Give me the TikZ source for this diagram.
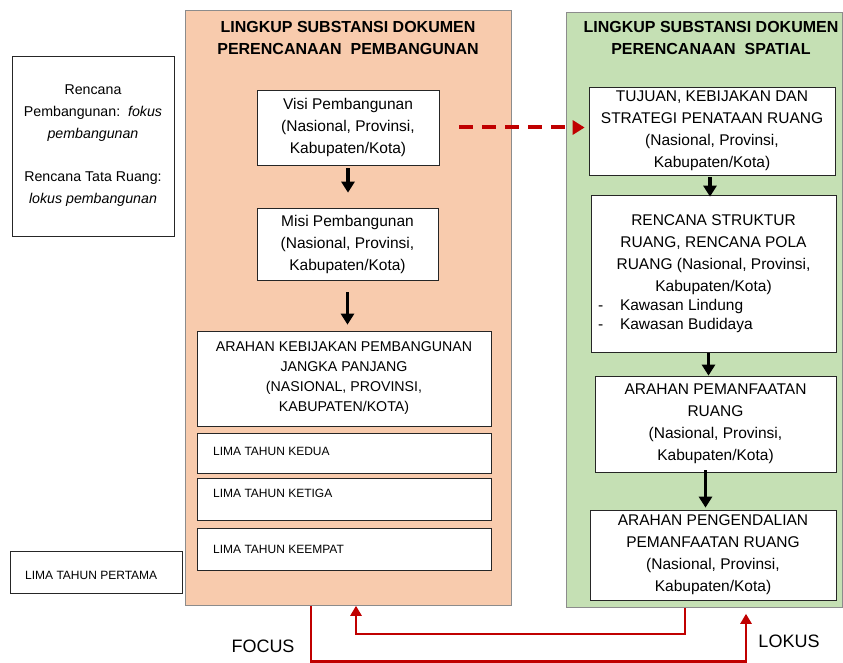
\documentclass[tikz,border=0pt]{standalone}
\usepackage{fontspec}
\setmainfont{Liberation Sans}
\usetikzlibrary{arrows.meta}

\definecolor{oranyepanel}{HTML}{F8CBAD}
\definecolor{hijaupanel}{HTML}{C5E0B4}
\definecolor{merah}{HTML}{C00000}

\tikzset{
    panel/.style={draw=black!45, line width=0.8pt, anchor=north west, inner sep=0pt},
    judul/.style={font=\fontsize{16}{22}\selectfont\bfseries, align=center},
    box/.style={draw=black!85, fill=white, line width=0.7pt, inner sep=0pt,
        align=center, font=\fontsize{15.5}{22}\selectfont},
    kecil/.style={font=\fontsize{12}{14}\selectfont, inner sep=0pt, anchor=west},
    panah/.style={line width=3.5pt, -{Triangle[length=11pt, width=13pt]}},
    merahputus/.style={merah, line width=4pt, dash pattern=on 14pt off 9pt,
        -{Triangle[length=12pt, width=14pt]}},
    merahgaris/.style={merah, line width=2.5pt, -{Triangle[length=10pt, width=11pt]}},
}

\begin{document}
\begin{tikzpicture}[x=1pt, y=-1pt]
\useasboundingbox (0,0) rectangle (843,663);

% panel
\node[panel, fill=oranyepanel, minimum width=326, minimum height=595] (pembangunan) at (185,10) {};
\node[panel, fill=hijaupanel, minimum width=276, minimum height=595] (spatial) at (566,12) {};
\node[judul] (judulkiri) at (348,38) {LINGKUP SUBSTANSI DOKUMEN\\PERENCANAAN~~PEMBANGUNAN};
\node[judul] (judulkanan) at (711,38) {LINGKUP SUBSTANSI DOKUMEN\\PERENCANAAN~~SPATIAL};

% keterangan kiri
\node[box,
    minimum width=162,
    minimum height=180,
    font=\fontsize{14.2}{22}\selectfont
] (keterangan) at (93,146) {Rencana\\Pembangunan:~~\textit{fokus}\\\textit{pembangunan}\\[21pt]Rencana Tata Ruang:\\\textit{lokus pembangunan}};
\node[box, minimum width=172, minimum height=42] (pertama) at (96,572) {};
\node[kecil] (labelpertama) at (25,575) {LIMA TAHUN PERTAMA};

% dokumen pembangunan
\node[box, minimum width=182, minimum height=75] (visi) at (348,127.5) {Visi Pembangunan\\(Nasional, Provinsi,\\Kabupaten/Kota)};
\node[box, minimum width=181, minimum height=72] (misi) at (347.5,244) {Misi Pembangunan\\(Nasional, Provinsi,\\Kabupaten/Kota)};
\node[box,
    minimum width=294,
    minimum height=95,
    font=\fontsize{14.2}{20}\selectfont
] (arahankebijakan) at (344,378.5) {ARAHAN KEBIJAKAN PEMBANGUNAN\\JANGKA PANJANG\\(NASIONAL, PROVINSI,\\KABUPATEN/KOTA)};
\foreach\nama/\y/\h/\ty in {KEDUA/453/40/451, KETIGA/499/42/493, KEEMPAT/549/42/549}{
    \node[box, minimum width=294, minimum height=\h] (lima\nama) at (344,\y) {};
    \node[kecil] (label\nama) at (213,\ty) {LIMA TAHUN \nama};
}

% dokumen spatial
\node[box, minimum width=246, minimum height=88] (tujuan) at (712,131) {TUJUAN, KEBIJAKAN DAN\\STRATEGI PENATAAN RUANG\\(Nasional, Provinsi,\\Kabupaten/Kota)};
\node[box, minimum width=245, minimum height=157] (rencana) at (713.5,273.5) {RENCANA STRUKTUR\\RUANG, RENCANA POLA\\RUANG (Nasional, Provinsi,\\Kabupaten/Kota)\\[-3pt]
    \makebox[231pt][l]{\makebox[22pt][l]{-}Kawasan Lindung}\\[-3pt]
    \makebox[231pt][l]{\makebox[22pt][l]{-}Kawasan Budidaya}};
\node[box, minimum width=241, minimum height=96] (pemanfaatan) at (715.5,424) {ARAHAN PEMANFAATAN\\RUANG\\(Nasional, Provinsi,\\Kabupaten/Kota)};
\node[box, minimum width=246, minimum height=90] (pengendalian) at (713,555) {ARAHAN PENGENDALIAN\\PEMANFAATAN RUANG\\(Nasional, Provinsi,\\Kabupaten/Kota)};

% panah hitam
\draw[panah, shorten <=3pt, shorten >=15pt] (visi.south) -- (visi.south |- misi.north);
\draw[panah, shorten <=12pt, shorten >=6pt] (misi.south) -- (misi.south |- arahankebijakan.north);
\draw[panah, shorten <=2pt, shorten >=-2pt] ([xshift=-2pt]tujuan.south) -- ([xshift=-2pt]tujuan.south |- rencana.north);
\draw[panah, shorten <=1pt] ([xshift=-5pt]rencana.south) -- ([xshift=-5pt]rencana.south |- pemanfaatan.north);
\draw[panah, shorten <=-2pt, shorten >=2pt] ([xshift=-10pt]pemanfaatan.south) -- ([xshift=-10pt]pemanfaatan.south |- pengendalian.north);

% panah merah
\draw[merahputus, shorten <=20pt, shorten >=4pt] (visi.east) -- (visi.east -| tujuan.west);
\coordinate (belokA) at (685,634);
\coordinate (belokB) at (356,634);
\draw[merahgaris, shorten <=8pt] (belokA |- pengendalian.south) -- (belokA) -- (belokB) -- (belokB |- pembangunan.south);
\coordinate (belokC) at (311,661.5);
\coordinate (belokD) at (746,661.5);
\draw[merahgaris, shorten >=6pt] (belokC |- pembangunan.south) -- (belokC) -- (belokD) -- (belokD |- spatial.south);

\node[font=\fontsize{18}{20}\selectfont] (focus) at (263,646) {FOCUS};
\node[font=\fontsize{18}{20}\selectfont] (lokus) at (789,641) {LOKUS};
\end{tikzpicture}
\end{document}
